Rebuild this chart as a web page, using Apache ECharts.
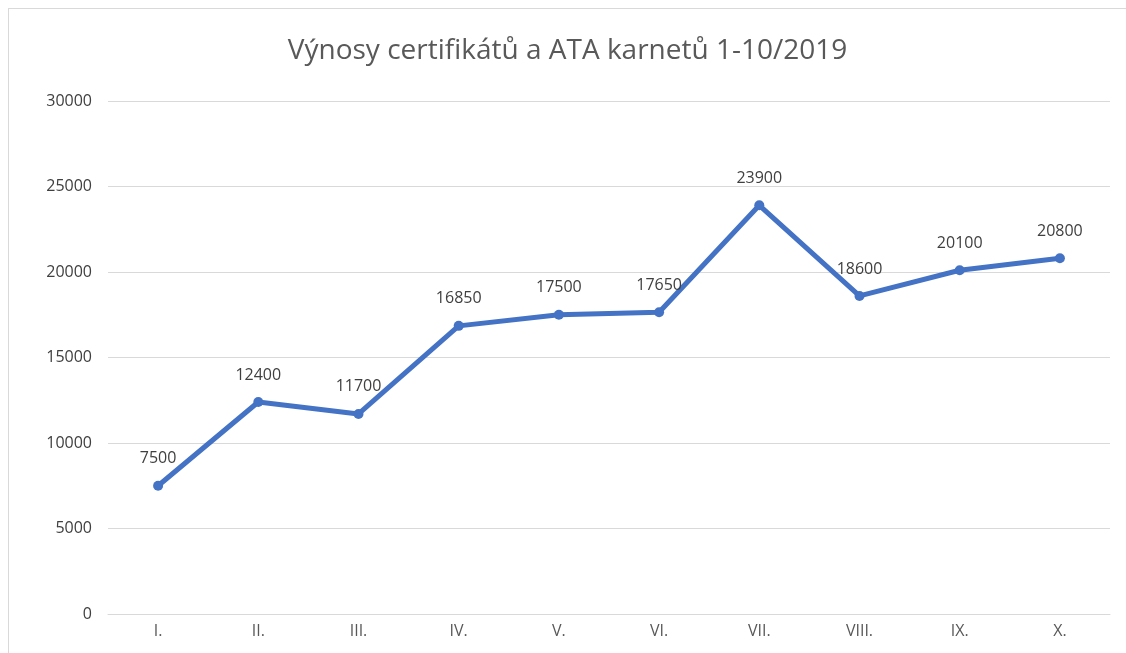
<!doctype html>
<html>
<head>
    <meta charset="UTF-8">
    <title>Výnosy certifikátů a ATA karnetů</title>
    <script src="https://cdn.jsdelivr.net/npm/echarts@6/dist/echarts.min.js"></script>
    <style>
        html, body { margin: 0; padding: 0; background: #fff; }
        #main { position: absolute; left: 8px; top: 8px; width: 1118px; height: 645px;
                border-left: 1px solid #d9d9d9; border-top: 1px solid #d9d9d9; box-sizing: border-box; }
    </style>
</head>
<body>
<div id="main"></div>
<script type="text/javascript">
    // data
    var months = ['I.', 'II.', 'III.', 'IV.', 'V.', 'VI.', 'VII.', 'VIII.', 'IX.', 'X.'];
    var vynosy = [7500, 12400, 11700, 16850, 17500, 17650, 23900, 18600, 20100, 20800];
    var yTicks = [0, 5000, 10000, 15000, 20000, 25000, 30000];

    var myChart = echarts.init(document.getElementById('main'));
    var font = '"Open Sans", "Noto Sans", sans-serif';
    var option = {
        backgroundColor: '#fff',
        animation: false,
        title: {
            text: 'Výnosy certifikátů a ATA karnetů 1-10/2019',
            left: 'center',
            top: 23,
            textStyle: { color: '#595959', fontSize: 28, fontWeight: 'normal', fontFamily: font }
        },
        grid: { left: 99, right: 16, top: 92, bottom: 39 },
        xAxis: {
            type: 'category',
            data: months,
            axisLine: { lineStyle: { color: '#d9d9d9', width: 1 } },
            axisTick: { show: false },
            axisLabel: { color: '#595959', fontSize: 16, margin: 9, fontFamily: font }
        },
        yAxis: {
            type: 'value',
            min: yTicks[0],
            max: yTicks[yTicks.length - 1],
            interval: 5000,
            axisLine: { show: false },
            axisTick: { show: false },
            splitLine: { lineStyle: { color: '#d9d9d9', width: 1 } },
            axisLabel: {
                color: '#404040', fontSize: 16, margin: 16, fontFamily: font,
                formatter: function (v) { return String(v); }
            }
        },
        series: [{
            type: 'line',
            data: vynosy,
            symbol: 'circle',
            symbolSize: 10,
            itemStyle: { color: '#4472c4' },
            lineStyle: { color: '#4472c4', width: 5 },
            label: {
                show: true,
                position: 'top',
                distance: 14,
                color: '#404040',
                fontSize: 16,
                fontFamily: font
            }
        }]
    };
    myChart.setOption(option);
</script>
</body>
</html>
